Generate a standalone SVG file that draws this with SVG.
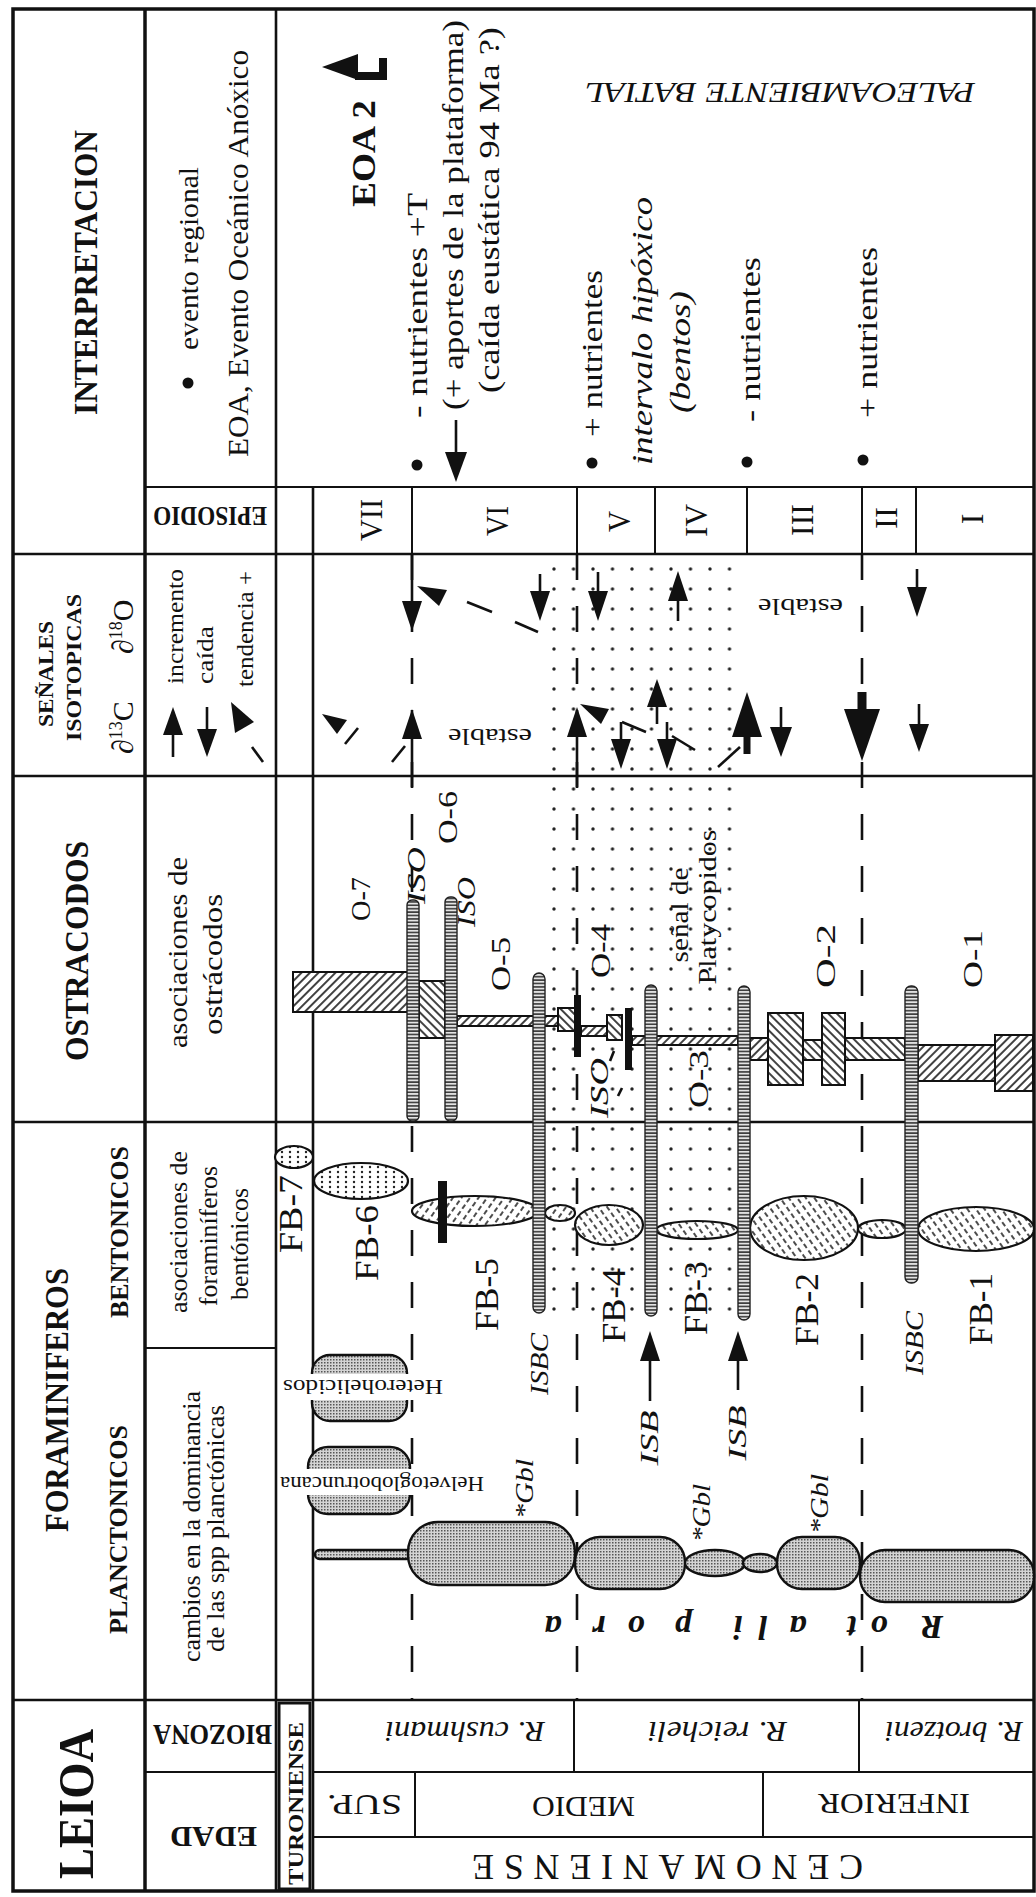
<svg xmlns="http://www.w3.org/2000/svg" width="1036" height="1897" viewBox="0 0 1036 1897">
<style>
text{font-family:"Liberation Serif","Times New Roman",serif;fill:#111}
.b{font-weight:bold}
.i{font-style:italic}
.L{stroke:#111;fill:none}
.d{stroke:#111;stroke-width:2.6;stroke-dasharray:26 26;fill:none}
.ar{fill:#111;stroke:none}
.sh{stroke:#111;stroke-width:2.6;fill:none}
.sp{fill:url(#coil);stroke:#222;stroke-width:1.4}
.pl{fill:url(#grey);stroke:#111;stroke-width:2.4}
.fb{fill:url(#fhb);stroke:#111;stroke-width:2.2}
.fbs{fill:url(#fhs);stroke:#111;stroke-width:2.2}
.fd{fill:url(#fdots);stroke:#111;stroke-width:2.2}
.os{fill:url(#hs);stroke:#111;stroke-width:2}
.ob{fill:url(#hb);stroke:#111;stroke-width:2}
</style>
<defs>
<pattern id="dots" patternUnits="userSpaceOnUse" x="544.25" y="559" width="19.5" height="20"><circle cx="9.75" cy="10" r="1.7" fill="#222"/></pattern>
<pattern id="hs" patternUnits="userSpaceOnUse" width="6" height="6" patternTransform="rotate(45)"><rect width="6" height="6" fill="#fff"/><line x1="1" y1="0" x2="1" y2="6" stroke="#111" stroke-width="1.6"/></pattern>
<pattern id="hb" patternUnits="userSpaceOnUse" width="6" height="6" patternTransform="rotate(-45)"><rect width="6" height="6" fill="#fff"/><line x1="1" y1="0" x2="1" y2="6" stroke="#111" stroke-width="1.6"/></pattern>
<pattern id="fhb" patternUnits="userSpaceOnUse" width="7" height="8" patternTransform="rotate(-35)"><rect width="7" height="8" fill="#fff"/><line x1="1" y1="0" x2="1" y2="5" stroke="#111" stroke-width="1.5"/></pattern>
<pattern id="fhs" patternUnits="userSpaceOnUse" width="7" height="8" patternTransform="rotate(35)"><rect width="7" height="8" fill="#fff"/><line x1="1" y1="0" x2="1" y2="5" stroke="#111" stroke-width="1.5"/></pattern>
<pattern id="fdots" patternUnits="userSpaceOnUse" width="8" height="5"><rect width="8" height="5" fill="#fff"/><circle cx="2" cy="2" r="1.2" fill="#222"/></pattern>
<pattern id="coil" patternUnits="userSpaceOnUse" width="12" height="3.4"><rect width="12" height="3.4" fill="#e4e4e4"/><line x1="0" y1="0.9" x2="12" y2="0.9" stroke="#222" stroke-width="1.4"/></pattern>
<pattern id="grey" patternUnits="userSpaceOnUse" width="3" height="3"><rect width="3" height="3" fill="#d4d4d4"/><rect width="1.5" height="1.5" fill="#555"/></pattern>
</defs>
<rect width="1036" height="1897" fill="#fff"/>

<g id="stipple"><rect x="544" y="559" width="195" height="753" fill="url(#dots)"/></g>

<g id="frame">
<rect x="13" y="9" width="1021" height="1882" fill="none" stroke="#111" stroke-width="3.5"/>
<line class="L" x1="145" y1="9" x2="145" y2="1891" stroke-width="3.5"/>
<line class="L" x1="276" y1="9" x2="276" y2="1891" stroke-width="2.6"/>
<line class="L" x1="313" y1="487" x2="313" y2="1891" stroke-width="2.6"/>
<line class="L" x1="145" y1="487" x2="1034" y2="487" stroke-width="2.2"/>
<line class="L" x1="13" y1="554" x2="1034" y2="554" stroke-width="2.6"/>
<line class="L" x1="13" y1="776" x2="1034" y2="776" stroke-width="2.6"/>
<line class="L" x1="13" y1="1122" x2="1034" y2="1122" stroke-width="2.6"/>
<line class="L" x1="13" y1="1700" x2="1034" y2="1700" stroke-width="2.6"/>
<line class="L" x1="145" y1="1348" x2="276" y2="1348" stroke-width="2.2"/>
<line class="L" x1="145" y1="1772" x2="276" y2="1772" stroke-width="2.2"/>
<line class="L" x1="313" y1="1772" x2="1034" y2="1772" stroke-width="2.2"/>
<line class="L" x1="313" y1="1837" x2="1034" y2="1837" stroke-width="2.2"/>
<line class="L" x1="412" y1="487" x2="412" y2="554" stroke-width="2"/>
<line class="L" x1="577" y1="487" x2="577" y2="554" stroke-width="2"/>
<line class="L" x1="655" y1="487" x2="655" y2="554" stroke-width="2"/>
<line class="L" x1="747" y1="487" x2="747" y2="554" stroke-width="2"/>
<line class="L" x1="862" y1="487" x2="862" y2="554" stroke-width="2"/>
<line class="L" x1="916" y1="487" x2="916" y2="554" stroke-width="2"/>
<line class="L" x1="574" y1="1700" x2="574" y2="1772" stroke-width="2"/>
<line class="L" x1="859" y1="1700" x2="859" y2="1772" stroke-width="2"/>
<line class="L" x1="415" y1="1772" x2="415" y2="1837" stroke-width="2"/>
<line class="L" x1="763" y1="1772" x2="763" y2="1837" stroke-width="2"/>
<rect x="279" y="1703" width="31" height="186" fill="none" stroke="#111" stroke-width="3"/>
</g>

<g id="connectors">
<line class="d" x1="412" y1="554" x2="412" y2="1700"/>
<line class="d" x1="577" y1="554" x2="577" y2="1700"/>
<line class="d" x1="862" y1="554" x2="862" y2="1700"/>
</g>

<g id="headers">
<text class="b" font-size="34" text-anchor="middle" textLength="285" lengthAdjust="spacingAndGlyphs" transform="translate(97,272.5) rotate(-90)">INTERPRETACION</text>
<text class="b" font-size="22" text-anchor="middle" textLength="106" lengthAdjust="spacingAndGlyphs" transform="translate(53,674) rotate(-90)">SEÑALES</text>
<text class="b" font-size="22" text-anchor="middle" textLength="147" lengthAdjust="spacingAndGlyphs" transform="translate(81,667.5) rotate(-90)">ISOTOPICAS</text>
<text font-size="30" transform="translate(133,754) rotate(-90)">∂<tspan font-size="18" dy="-11">13</tspan><tspan dy="11">C</tspan></text>
<text font-size="30" transform="translate(133,654) rotate(-90)">∂<tspan font-size="18" dy="-11">18</tspan><tspan dy="11">O</tspan></text>
<text class="b" font-size="34" text-anchor="middle" textLength="220" lengthAdjust="spacingAndGlyphs" transform="translate(88,951) rotate(-90)">OSTRACODOS</text>
<text class="b" font-size="34" text-anchor="middle" textLength="264" lengthAdjust="spacingAndGlyphs" transform="translate(68,1400) rotate(-90)">FORAMINIFEROS</text>
<text class="b" font-size="26" text-anchor="middle" textLength="172" lengthAdjust="spacingAndGlyphs" transform="translate(128,1232) rotate(-90)">BENTONICOS</text>
<text class="b" font-size="26" text-anchor="middle" textLength="209" lengthAdjust="spacingAndGlyphs" transform="translate(127,1529.5) rotate(-90)">PLANCTONICOS</text>
<text class="b" font-size="50" text-anchor="middle" textLength="150" lengthAdjust="spacingAndGlyphs" transform="translate(93,1804) rotate(-90)">LEIOA</text>

<circle cx="188" cy="383" r="5.5" fill="#111"/>
<text font-size="28" text-anchor="middle" textLength="183" lengthAdjust="spacingAndGlyphs" transform="translate(198,258.5) rotate(-90)">evento regional</text>
<text font-size="30" text-anchor="middle" textLength="407" lengthAdjust="spacingAndGlyphs" transform="translate(248,253.5) rotate(-90)">EOA, Evento Oceánico Anóxico</text>
<text class="b" font-size="28" textLength="114" lengthAdjust="spacingAndGlyphs" transform="translate(267,507) rotate(180)">EPISODIO</text>
<text font-size="24" text-anchor="middle" textLength="115" lengthAdjust="spacingAndGlyphs" transform="translate(183,626.5) rotate(-90)">incremento</text>
<text font-size="24" text-anchor="middle" textLength="58" lengthAdjust="spacingAndGlyphs" transform="translate(213,655) rotate(-90)">caída</text>
<text font-size="24" text-anchor="middle" textLength="116" lengthAdjust="spacingAndGlyphs" transform="translate(253,629) rotate(-90)">tendencia +</text>
<line class="sh" x1="173" y1="735" x2="173" y2="757"/><polygon class="ar" points="163,735 183,735 173,707"/>
<line class="sh" x1="207" y1="707" x2="207" y2="729"/><polygon class="ar" points="197,729 217,729 207,757"/>
<polygon class="ar" points="231,702 254,722 235,733"/><line class="sh" x1="252" y1="747" x2="263" y2="762"/>
<text font-size="28" text-anchor="middle" textLength="191" lengthAdjust="spacingAndGlyphs" transform="translate(187,952.5) rotate(-90)">asociaciones de</text>
<text font-size="28" text-anchor="middle" textLength="141" lengthAdjust="spacingAndGlyphs" transform="translate(222,964.5) rotate(-90)">ostrácodos</text>
<text font-size="26" text-anchor="middle" textLength="162" lengthAdjust="spacingAndGlyphs" transform="translate(187,1232) rotate(-90)">asociaciones de</text>
<text font-size="26" text-anchor="middle" textLength="140" lengthAdjust="spacingAndGlyphs" transform="translate(217,1236) rotate(-90)">foraminíferos</text>
<text font-size="26" text-anchor="middle" textLength="112" lengthAdjust="spacingAndGlyphs" transform="translate(248,1244) rotate(-90)">bentónicos</text>
<text font-size="26" text-anchor="middle" textLength="271" lengthAdjust="spacingAndGlyphs" transform="translate(200,1526.5) rotate(-90)">cambios en la dominancia</text>
<text font-size="26" text-anchor="middle" textLength="247" lengthAdjust="spacingAndGlyphs" transform="translate(224,1528.5) rotate(-90)">de las spp planctónicas</text>
<text class="b" font-size="30" textLength="119" lengthAdjust="spacingAndGlyphs" transform="translate(272,1725) rotate(180)">BIOZONA</text>
<text class="b" font-size="30" textLength="87" lengthAdjust="spacingAndGlyphs" transform="translate(257,1827) rotate(180)">EDAD</text>
</g>

<g id="interpretacion">
<polygon class="ar" points="322,67 358,54 358,80"/>
<rect x="355" y="72" width="31" height="8" fill="#111"/>
<rect x="379" y="58" width="8" height="22" fill="#111"/>
<text class="b" font-size="34" text-anchor="middle" textLength="107" lengthAdjust="spacingAndGlyphs" transform="translate(375,153.5) rotate(-90)">EOA 2</text>
<circle cx="417" cy="465" r="5.5" fill="#111"/>
<text font-size="30" text-anchor="middle" textLength="225" lengthAdjust="spacingAndGlyphs" transform="translate(427,305.5) rotate(-90)">- nutrientes  +T</text>
<line class="sh" x1="456" y1="420" x2="456" y2="452"/><polygon class="ar" points="445,452 467,452 456,482"/>
<text font-size="30" text-anchor="middle" textLength="390" lengthAdjust="spacingAndGlyphs" transform="translate(463,215) rotate(-90)">(+ aportes de la plataforma)</text>
<text font-size="30" text-anchor="middle" textLength="366" lengthAdjust="spacingAndGlyphs" transform="translate(499,210) rotate(-90)">(caída eustática 94 Ma ?)</text>
<circle cx="592" cy="463" r="5.5" fill="#111"/>
<text font-size="30" text-anchor="middle" textLength="167" lengthAdjust="spacingAndGlyphs" transform="translate(602,353.5) rotate(-90)">+ nutrientes</text>
<text class="i" font-size="30" text-anchor="middle" textLength="268" lengthAdjust="spacingAndGlyphs" transform="translate(652,331) rotate(-90)">intervalo hipóxico</text>
<text class="i" font-size="30" text-anchor="middle" textLength="122" lengthAdjust="spacingAndGlyphs" transform="translate(690,352) rotate(-90)">(bentos)</text>
<circle cx="747" cy="462" r="5.5" fill="#111"/>
<text font-size="30" text-anchor="middle" textLength="165" lengthAdjust="spacingAndGlyphs" transform="translate(760,339.5) rotate(-90)">- nutrientes</text>
<circle cx="863" cy="460" r="5.5" fill="#111"/>
<text font-size="30" text-anchor="middle" textLength="171" lengthAdjust="spacingAndGlyphs" transform="translate(877,332.5) rotate(-90)">+ nutrientes</text>
<text class="i" font-size="30" textLength="390" lengthAdjust="spacingAndGlyphs" transform="translate(975,83) rotate(180)">PALEOAMBIENTE  BATIAL</text>
</g>

<g id="episodios" font-size="32">
<text text-anchor="middle" textLength="42" lengthAdjust="spacingAndGlyphs" transform="translate(382,520) rotate(-90)">VII</text>
<text text-anchor="middle" textLength="30" lengthAdjust="spacingAndGlyphs" transform="translate(508,521) rotate(-90)">VI</text>
<text text-anchor="middle" textLength="21" lengthAdjust="spacingAndGlyphs" transform="translate(630,521.5) rotate(-90)">V</text>
<text text-anchor="middle" textLength="33" lengthAdjust="spacingAndGlyphs" transform="translate(707,520.5) rotate(-90)">IV</text>
<text text-anchor="middle" textLength="32" lengthAdjust="spacingAndGlyphs" transform="translate(813,520) rotate(-90)">III</text>
<text text-anchor="middle" textLength="22" lengthAdjust="spacingAndGlyphs" transform="translate(897,518) rotate(-90)">II</text>
<text text-anchor="middle" transform="translate(983,519) rotate(-90)">I</text>
</g>

<g id="isotopos">
<rect x="398" y="640" width="28" height="14" fill="#fff"/>
<line class="sh" x1="412" y1="554" x2="412" y2="601"/><polygon class="ar" points="402,601 422,601 412,631"/>
<line class="sh" x1="412" y1="739" x2="412" y2="787"/><polygon class="ar" points="402,739 422,739 412,709"/>
<line class="sh" x1="392" y1="762" x2="405" y2="746"/>
<polygon class="ar" points="322,714 347,720 337,734"/><line class="sh" x1="345" y1="744" x2="358" y2="728"/>
<polygon class="ar" points="417,586 447,590 439,606"/>
<line class="sh" x1="467" y1="602" x2="492" y2="612"/><line class="sh" x1="515" y1="622" x2="538" y2="632"/>
<line class="sh" x1="540" y1="574" x2="540" y2="591"/><polygon class="ar" points="530,591 550,591 540,621"/>
<text font-size="24" textLength="84" lengthAdjust="spacingAndGlyphs" transform="translate(532,729) rotate(180)">estable</text>
<line class="sh" x1="598" y1="572" x2="598" y2="591"/><polygon class="ar" points="588,591 608,591 598,621"/>
<line class="sh" x1="678" y1="601" x2="678" y2="621"/><polygon class="ar" points="668,601 688,601 678,571"/>
<line class="sh" x1="577" y1="737" x2="577" y2="787"/><polygon class="ar" points="567,737 587,737 577,707"/>
<polygon class="ar" points="580,704 609,709 601,724"/><line class="sh" x1="622" y1="722" x2="646" y2="732"/>
<line class="sh" x1="621" y1="722" x2="621" y2="739"/><polygon class="ar" points="611,739 631,739 621,769"/>
<line class="sh" x1="657" y1="707" x2="657" y2="724"/><polygon class="ar" points="647,707 667,707 657,679"/>
<line class="sh" x1="667" y1="722" x2="667" y2="739"/><polygon class="ar" points="657,739 677,739 667,769"/>
<line class="sh" x1="672" y1="736" x2="695" y2="750"/>
<rect x="743.5" y="735" width="7" height="19" fill="#111"/><polygon class="ar" points="732,737 762,737 747,692"/>
<line class="sh" x1="781" y1="707" x2="781" y2="727"/><polygon class="ar" points="770,727 792,727 781,757"/>
<line class="sh" x1="718" y1="767" x2="740" y2="747"/>
<text font-size="24" textLength="85" lengthAdjust="spacingAndGlyphs" transform="translate(843,599) rotate(180)">estable</text>
<rect x="857.5" y="692" width="9" height="19" fill="#111"/><polygon class="ar" points="844,709 880,709 862,761"/>
<line class="sh" x1="917" y1="569" x2="917" y2="587"/><polygon class="ar" points="907,587 927,587 917,617"/>
<line class="sh" x1="919" y1="704" x2="919" y2="724"/><polygon class="ar" points="909,724 929,724 919,752"/>
</g>

<g id="ostracodos">
<rect class="os" x="293" y="972" width="115" height="40"/>
<rect class="ob" x="419" y="981" width="26" height="57"/>
<rect class="os" x="457" y="1016" width="101" height="10"/>
<rect class="ob" x="558" y="1008" width="19" height="23"/>
<rect x="574" y="995" width="7" height="62" fill="#111"/>
<rect class="os" x="581" y="1026" width="27" height="10"/>
<rect class="ob" x="607" y="1015" width="15" height="25"/>
<rect x="625" y="1008" width="7" height="62" fill="#111"/>
<rect class="os" x="632" y="1036" width="106" height="9"/>
<rect class="os" x="750" y="1038" width="18" height="22"/>
<rect class="ob" x="768" y="1013" width="35" height="72"/>
<rect class="ob" x="803" y="1040" width="19" height="20"/>
<rect class="ob" x="822" y="1013" width="23" height="72"/>
<rect class="ob" x="845" y="1038" width="60" height="22"/>
<rect class="os" x="918" y="1045" width="77" height="36"/>
<rect class="os" x="995" y="1035" width="38" height="56"/>
<rect class="sp" x="407" y="900" width="12" height="221" rx="5"/>
<rect class="sp" x="445" y="897" width="12" height="224" rx="5"/>
<text font-size="28" text-anchor="middle" textLength="44" lengthAdjust="spacingAndGlyphs" transform="translate(370,899) rotate(-90)">O-7</text>
<text class="i" font-size="26" text-anchor="middle" textLength="57" lengthAdjust="spacingAndGlyphs" transform="translate(425,875.5) rotate(-90)">ISO</text>
<text font-size="28" text-anchor="middle" textLength="53" lengthAdjust="spacingAndGlyphs" transform="translate(457,817.5) rotate(-90)">O-6</text>
<text class="i" font-size="26" text-anchor="middle" textLength="50" lengthAdjust="spacingAndGlyphs" transform="translate(475,902) rotate(-90)">ISO</text>
<text font-size="28" text-anchor="middle" textLength="54" lengthAdjust="spacingAndGlyphs" transform="translate(510,964) rotate(-90)">O-5</text>
<text font-size="28" text-anchor="middle" textLength="54" lengthAdjust="spacingAndGlyphs" transform="translate(610,951) rotate(-90)">O-4</text>
<text font-size="26" text-anchor="middle" textLength="95" lengthAdjust="spacingAndGlyphs" transform="translate(688,915) rotate(-90)">señal de</text>
<text font-size="26" text-anchor="middle" textLength="155" lengthAdjust="spacingAndGlyphs" transform="translate(716,907) rotate(-90)">Platycopidos</text>
<text class="i" font-size="26" text-anchor="middle" textLength="60" lengthAdjust="spacingAndGlyphs" transform="translate(608,1088) rotate(-90)">ISO</text>
<line class="sh" x1="610" y1="1061" x2="614" y2="1051" stroke-width="2"/>
<line class="sh" x1="618" y1="1096" x2="622" y2="1088" stroke-width="2"/>
<text font-size="28" text-anchor="middle" textLength="58" lengthAdjust="spacingAndGlyphs" transform="translate(708,1079) rotate(-90)">O-3</text>
<text font-size="28" text-anchor="middle" textLength="64" lengthAdjust="spacingAndGlyphs" transform="translate(835,956) rotate(-90)">O-2</text>
<text font-size="28" text-anchor="middle" textLength="58" lengthAdjust="spacingAndGlyphs" transform="translate(982,959) rotate(-90)">O-1</text>
</g>

<g id="foraminiferos">
<ellipse class="fd" cx="294" cy="1157" rx="19" ry="11"/>
<ellipse class="fd" cx="361" cy="1181" rx="47" ry="18"/>
<ellipse class="fbs" cx="475" cy="1211" rx="63" ry="15"/>
<rect x="438" y="1181" width="9" height="62" fill="#111"/>
<ellipse class="fbs" cx="560" cy="1213" rx="15" ry="8"/>
<ellipse class="fb" cx="609" cy="1225" rx="34" ry="20"/>
<ellipse class="fb" cx="697" cy="1230" rx="41" ry="9"/>
<ellipse class="fb" cx="804" cy="1228" rx="54" ry="32"/>
<ellipse class="fb" cx="882" cy="1229" rx="24" ry="9"/>
<ellipse class="fb" cx="976" cy="1229" rx="58" ry="22"/>
<rect class="sp" x="533" y="973" width="12" height="340" rx="6"/>
<rect class="sp" x="645" y="985" width="12" height="331" rx="6"/>
<rect class="sp" x="738" y="986" width="12" height="334" rx="6"/>
<rect class="sp" x="905" y="986" width="13" height="297" rx="6"/>
<text font-size="34" text-anchor="middle" textLength="78" lengthAdjust="spacingAndGlyphs" transform="translate(302,1214) rotate(-90)">FB-7</text>
<text font-size="34" text-anchor="middle" textLength="76" lengthAdjust="spacingAndGlyphs" transform="translate(378,1243) rotate(-90)">FB-6</text>
<text font-size="34" text-anchor="middle" textLength="73" lengthAdjust="spacingAndGlyphs" transform="translate(498,1294.5) rotate(-90)">FB-5</text>
<text font-size="34" text-anchor="middle" textLength="75" lengthAdjust="spacingAndGlyphs" transform="translate(625,1305.5) rotate(-90)">FB-4</text>
<text font-size="34" text-anchor="middle" textLength="74" lengthAdjust="spacingAndGlyphs" transform="translate(707,1298) rotate(-90)">FB-3</text>
<text font-size="34" text-anchor="middle" textLength="73" lengthAdjust="spacingAndGlyphs" transform="translate(818,1309.5) rotate(-90)">FB-2</text>
<text font-size="34" text-anchor="middle" textLength="72" lengthAdjust="spacingAndGlyphs" transform="translate(992,1309) rotate(-90)">FB-1</text>
<text class="i" font-size="26" text-anchor="middle" textLength="62" lengthAdjust="spacingAndGlyphs" transform="translate(548,1364) rotate(-90)">ISBC</text>
<text class="i" font-size="26" text-anchor="middle" textLength="64" lengthAdjust="spacingAndGlyphs" transform="translate(923,1343) rotate(-90)">ISBC</text>
<line class="sh" x1="650" y1="1361" x2="650" y2="1401"/><polygon class="ar" points="640,1361 660,1361 650,1331"/>
<text class="i" font-size="26" text-anchor="middle" textLength="55" lengthAdjust="spacingAndGlyphs" transform="translate(658,1438) rotate(-90)">ISB</text>
<line class="sh" x1="738" y1="1361" x2="738" y2="1390"/><polygon class="ar" points="728,1361 748,1361 738,1331"/>
<text class="i" font-size="26" text-anchor="middle" textLength="55" lengthAdjust="spacingAndGlyphs" transform="translate(746,1433) rotate(-90)">ISB</text>

<rect class="pl" x="312" y="1355" width="95" height="66" rx="18"/>
<rect x="280" y="1374" width="165" height="26" fill="#fff"/>
<text font-size="22" textLength="160" lengthAdjust="spacingAndGlyphs" transform="translate(443,1380) rotate(180)">Heterohelicidos</text>
<rect class="pl" x="308" y="1447" width="102" height="67" rx="20"/>
<rect x="278" y="1469" width="208" height="26" fill="#fff"/>
<text font-size="22" textLength="204" lengthAdjust="spacingAndGlyphs" transform="translate(484,1477) rotate(180)">Helvetoglobotruncana</text>
<rect class="pl" x="315" y="1550" width="96" height="9" rx="4.5" stroke-width="1.6"/>
<rect class="pl" x="408" y="1522" width="167" height="63" rx="30"/>
<rect class="pl" x="575" y="1537" width="110" height="52" rx="25"/>
<ellipse class="pl" cx="715" cy="1563" rx="30" ry="13"/>
<ellipse class="pl" cx="760" cy="1563" rx="17" ry="9"/>
<rect class="pl" x="777" y="1537" width="83" height="52" rx="25"/>
<rect class="pl" x="860" y="1550" width="174" height="52" rx="25"/>
<text class="i" font-size="26" text-anchor="middle" textLength="60" lengthAdjust="spacingAndGlyphs" transform="translate(533,1489) rotate(-90)">*Gbl</text>
<text class="i" font-size="26" text-anchor="middle" textLength="58" lengthAdjust="spacingAndGlyphs" transform="translate(710,1513) rotate(-90)">*Gbl</text>
<text class="i" font-size="26" text-anchor="middle" textLength="60" lengthAdjust="spacingAndGlyphs" transform="translate(828,1504) rotate(-90)">*Gbl</text>
<g class="b i" font-size="34" text-anchor="middle">
<text transform="translate(932,1616) rotate(180)">R</text>
<text transform="translate(879,1616) rotate(180)">o</text>
<text transform="translate(852,1616) rotate(180)">t</text>
<text transform="translate(798,1616) rotate(180)">a</text>
<text transform="translate(763,1616) rotate(180)">l</text>
<text transform="translate(738,1616) rotate(180)">i</text>
<text transform="translate(683,1616) rotate(180)">p</text>
<text transform="translate(636,1616) rotate(180)">o</text>
<text transform="translate(599,1616) rotate(180)">r</text>
<text transform="translate(553,1616) rotate(180)">a</text>
</g>
</g>

<g id="biozonas">
<text class="b" font-size="22" text-anchor="middle" textLength="163" lengthAdjust="spacingAndGlyphs" transform="translate(303,1803.5) rotate(-90)">TURONIENSE</text>
<text class="i" font-size="29" textLength="160" lengthAdjust="spacingAndGlyphs" transform="translate(545,1722) rotate(180)">R. cushmani</text>
<text class="i" font-size="29" textLength="139" lengthAdjust="spacingAndGlyphs" transform="translate(787,1722) rotate(180)">R. reicheli</text>
<text class="i" font-size="29" textLength="138" lengthAdjust="spacingAndGlyphs" transform="translate(1023,1722) rotate(180)">R. brotzeni</text>
<text font-size="30" textLength="75" lengthAdjust="spacingAndGlyphs" transform="translate(402,1795) rotate(180)">SUP.</text>
<text font-size="30" textLength="103" lengthAdjust="spacingAndGlyphs" transform="translate(635,1797) rotate(180)">MEDIO</text>
<text font-size="30" textLength="152" lengthAdjust="spacingAndGlyphs" transform="translate(970,1794) rotate(180)">INFERIOR</text>
<text font-size="36" textLength="391" lengthAdjust="spacing" transform="translate(863,1855) rotate(180)">CENOMANIENSE</text>
</g>
</svg>
